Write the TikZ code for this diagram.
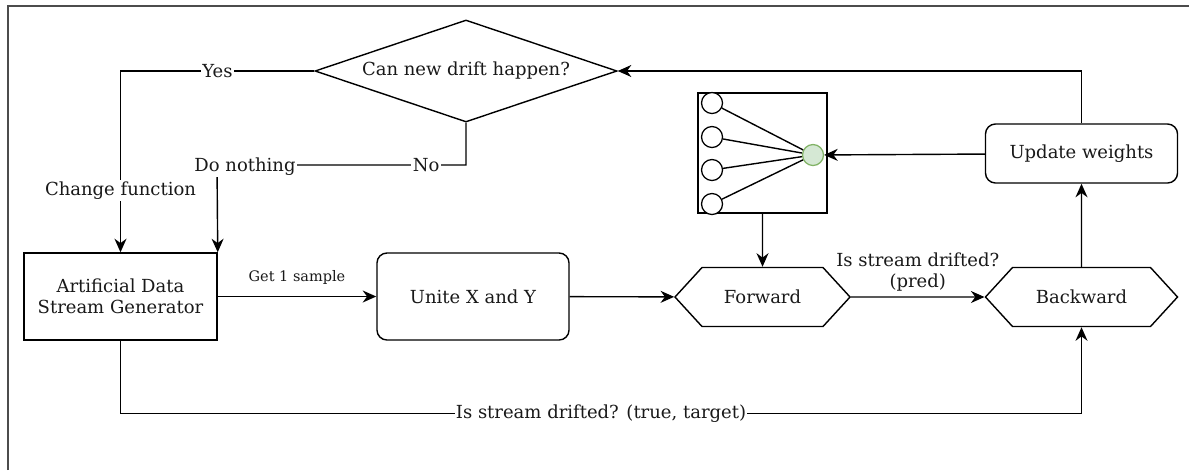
\documentclass[tikz,border=0pt]{standalone}
\usepackage{fontspec}
\setmainfont{DejaVu Serif}
\usetikzlibrary{shapes.geometric, shapes.symbols, arrows.meta, positioning, calc}
\definecolor{nnfill}{HTML}{D5E8D4}
\definecolor{nndraw}{HTML}{82B366}
\tikzset{
  block/.style={rectangle, draw=black, line width=1pt, fill=white, minimum width=4.825cm, minimum height=2.175cm, align=center},
  roundblock/.style={block, rounded corners=0.25cm},
  hexa/.style={signal, signal to=east and west, signal pointer angle=95, draw=black, line width=1pt, minimum height=1.475cm, align=center},
  decision/.style={diamond, aspect=2.96, draw=black, line width=1pt, minimum width=7.55cm, minimum height=2.55cm, inner sep=0pt, align=center},
  neuron/.style={circle, draw=black, line width=0.9pt, fill=white, minimum size=0.525cm, inner sep=0pt},
  arrow/.style={-{Stealth[length=3.4mm, width=3mm, inset=1.1mm]}, line width=1pt},
  lbl/.style={fill=white, inner sep=1pt},
}

\begin{document}
\begin{tikzpicture}[x=0.025cm, y=-0.025cm, font=\fontsize{12.8}{15}\selectfont, text=black!90]
\useasboundingbox (0,0) rectangle (1189,470);
% sheet frame
\draw[line width=2pt, black!70] (8,470) -- (8,6) -- (1189,6);

\node[block] (gen) at (120.5,296.5) {Artificial Data\\Stream Generator};
\node[roundblock, minimum width=4.8cm] (unite) at (473,296.5) {Unite X and Y};
\node[hexa, minimum width=4.375cm] (fwd) at (762.5,297) {Forward};
\node[hexa, minimum width=4.8cm] (bwd) at (1081.5,297) {Backward};
\node[roundblock, minimum width=4.8cm, minimum height=1.475cm] (upd) at (1081.5,153.5) {Update weights};
\node[decision] (dia) at (466,71) {Can new drift happen?};

% small network
\node[rectangle, draw=black, line width=1pt, minimum width=3.225cm, minimum height=3cm] (nn) at (762.5,153) {};
\node[neuron] (in1) at (712,103) {};
\node[neuron] (in2) at (712,137) {};
\node[neuron] (in3) at (712,170) {};
\node[neuron] (in4) at (712,204) {};
\node[neuron, fill=nnfill, draw=nndraw] (out) at (813,155) {};
\foreach \i in {1,...,4}
  \draw[line width=1pt] (in\i) -- (out);

\coordinate (dn) at (217,165);

\draw[arrow] (gen) -- node[above=5pt, font=\fontsize{10.3}{12}\selectfont]{Get 1 sample} (unite);
\draw[arrow] (unite) -- (fwd);
\draw[arrow] (fwd) -- node[above, align=center]{Is stream drifted?\\(pred)} (bwd);
\draw[arrow] (bwd) -- (upd);
\draw[arrow] (upd) -- (out);
\draw[arrow] (nn) -- (fwd);
\draw[arrow] (upd.north) |- (dia.east);
\draw[arrow] (dia.west) -| node[lbl, pos=0.25]{Yes} node[lbl, pos=0.83]{Change function} (gen.north);
\draw[arrow] (dia.south) |- node[lbl, pos=0.58]{No} (dn) -- (gen.north east);
\node[lbl] (dnlbl) at (245,167) {Do nothing};
\draw[arrow] (gen.south) -- ++(0,73) -| node[lbl, pos=0.25]{Is stream drifted? (true, target)} (bwd.south);
\end{tikzpicture}
\end{document}
